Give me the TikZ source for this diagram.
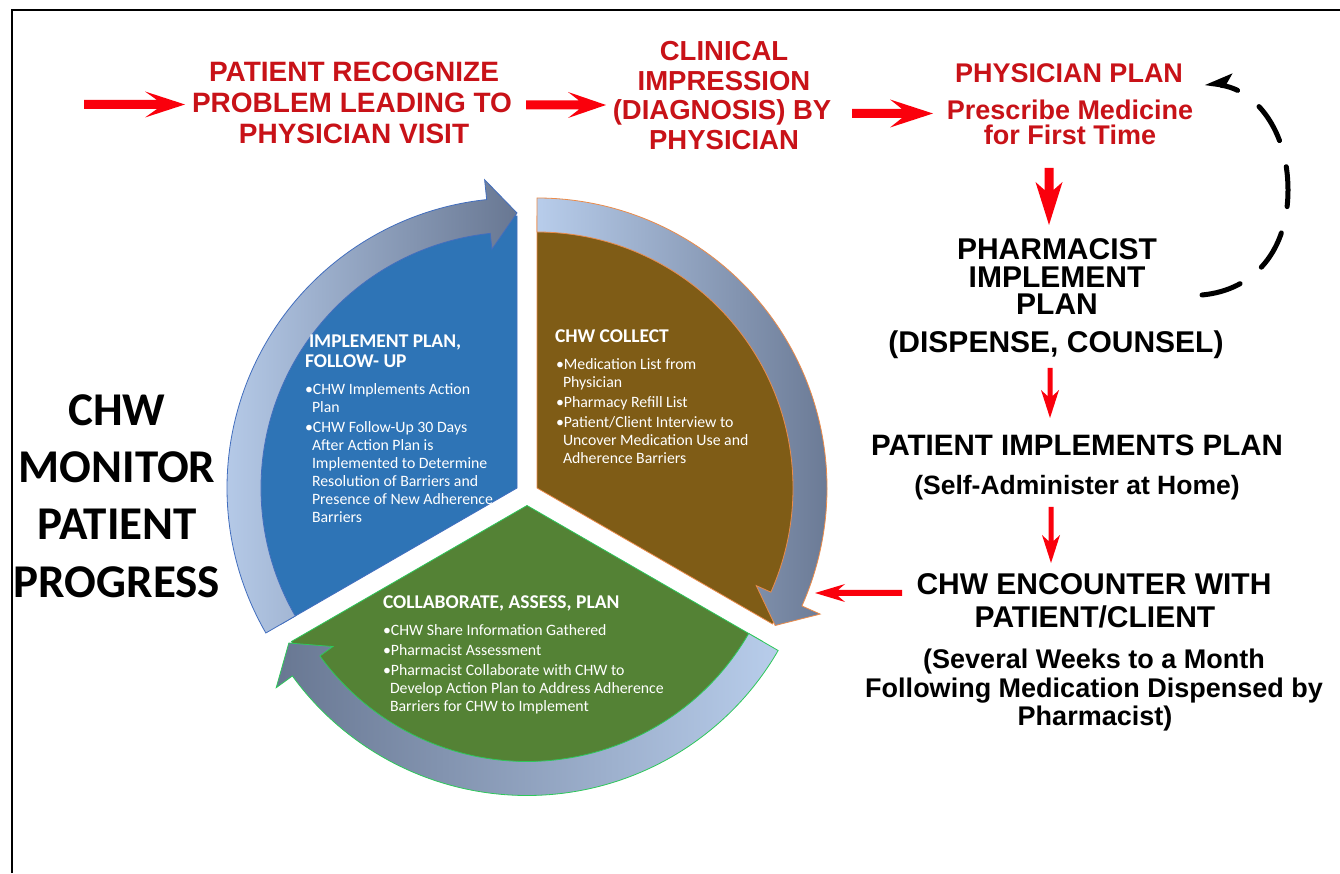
\documentclass[tikz,border=0pt]{standalone}
\usepackage{fontspec}
\setmainfont{Liberation Sans}
\newfontfamily\segfont{Carlito}
\usetikzlibrary{arrows.meta}

\definecolor{redtxt}{RGB}{200,18,24}
\definecolor{redarr}{RGB}{250,0,12}
\definecolor{segblue}{RGB}{46,116,182}
\definecolor{segbrown}{RGB}{127,92,22}
\definecolor{seggreen}{RGB}{84,130,53}
\definecolor{arlight}{RGB}{184,205,235}
\definecolor{ardark}{RGB}{104,119,146}
\definecolor{edgeblue}{RGB}{66,110,190}
\definecolor{edgeorange}{RGB}{235,140,75}
\definecolor{edgegreen}{RGB}{45,200,90}

\tikzset{
  every node/.style={inner sep=0pt, outer sep=0pt},
  redline/.style={anchor=base, text=redtxt, font=\bfseries\fontsize{28}{30}\selectfont},
  redlineB/.style={anchor=base, text=redtxt, font=\bfseries\fontsize{27.5}{30}\selectfont},
  redlineC/.style={anchor=base, text=redtxt, font=\bfseries\fontsize{27}{30}\selectfont},
  blkline/.style={anchor=base, text=black, font=\bfseries\fontsize{30}{30}\selectfont},
  blkmid/.style={anchor=base, text=black, font=\bfseries\fontsize{29.5}{30}\selectfont},
  blksub/.style={anchor=base, text=black, font=\bfseries\fontsize{26.5}{30}\selectfont},
  blksmall/.style={anchor=base, text=black, font=\bfseries\fontsize{27}{30}\selectfont},
  monline/.style={anchor=base, text=black, font=\segfont\bfseries\fontsize{47}{50}\selectfont},
  segtitle/.style={anchor=base west, text=white, font=\segfont\bfseries\fontsize{19.5}{20}\selectfont},
  segitem/.style={anchor=base west, text=white, font=\segfont\fontsize{15.8}{17.8}\selectfont},
  cyclearrow/.style={line width=0.8pt},
  dashloop/.style={line width=5pt, line cap=round, dash pattern=on 40pt off 27pt,
    -{Stealth[harpoon, swap, length=22pt, width=26pt, inset=5pt]}},
  pics/blockarrow/.style n args={5}{code={
    % #1 length, #2 half shaft, #3 half head, #4 head length, #5 notch
    \fill[redarr] (0,-#2) -- ({#1-#4+#5},-#2) -- ({#1-#4},-#3) -- (#1,0)
      -- ({#1-#4},#3) -- ({#1-#4+#5},#2) -- (0,#2) -- cycle;
  }},
}

% one line of text: style, name, x, baseline y measured from the top edge, text
\newcommand\tline[5]{\node[#1] (#2) at (#3,873-#4) {#5};}

\begin{document}
\begin{tikzpicture}[x=1pt,y=1pt]
\useasboundingbox (0,0) rectangle (1340,873);
\fill[white] (0,0) rectangle (1340,873);

% frame
\draw[line width=1.8pt] (12,0) -- (12,863) -- (1340,863);

% ---- cycle: three exploded sectors ----
\begin{scope}[shift={(517,385)}]
  \filldraw[fill=segblue, draw=edgeblue, line width=0.8pt]
    (0,0) -- (90:272pt) arc[start angle=90, end angle=210, radius=272pt] -- cycle;
\end{scope}
\begin{scope}[shift={(537,385)}]
  \filldraw[fill=segbrown, draw=edgeorange, line width=0.8pt]
    (0,0) -- (90:272pt) arc[start angle=90, end angle=-30, radius=272pt] -- cycle;
\end{scope}
\begin{scope}[shift={(527,367.5)}]
  \filldraw[fill=seggreen, draw=edgegreen, line width=0.8pt]
    (0,0) -- (210:272pt) arc[start angle=210, end angle=330, radius=272pt] -- cycle;
\end{scope}

% ---- curved arrows around the sectors ----
\begin{scope}[shift={(517,385)}]
  \shadedraw[left color=arlight, right color=ardark, draw=edgeblue, cyclearrow]
    (210:290pt) arc[start angle=210, end angle=96, radius=290pt]
    -- (96:310pt) -- (90:275pt) -- (96:240pt) -- (96:256pt)
    arc[start angle=96, end angle=210, radius=256pt] -- cycle;
\end{scope}
\begin{scope}[shift={(537,385)}]
  \shadedraw[left color=arlight, right color=ardark, draw=edgeorange, cyclearrow]
    (90:290pt) arc[start angle=90, end angle=-24, radius=290pt]
    -- (-24:310pt) -- (-30:275pt) -- (-24:240pt) -- (-24:256pt)
    arc[start angle=-24, end angle=90, radius=256pt] -- cycle;
\end{scope}
\begin{scope}[shift={(527,367.5)}]
  \shadedraw[left color=ardark, right color=arlight, draw=edgegreen, cyclearrow]
    (330:290pt) arc[start angle=330, end angle=216, radius=290pt]
    -- (216:310pt) -- (210:275pt) -- (216:240pt) -- (216:256pt)
    arc[start angle=216, end angle=330, radius=256pt] -- cycle;
\end{scope}

% ---- sector texts ----
\tline{segtitle}{bT1}{309}{348}{IMPLEMENT PLAN,}
\tline{segtitle}{bT2}{305}{368}{FOLLOW- UP}
\tline{segitem}{bI1}{305}{395}{•CHW Implements Action}
\tline{segitem}{bI2}{312}{413}{Plan}
\tline{segitem}{bI3}{305}{433}{•CHW Follow-Up 30 Days}
\tline{segitem}{bI4}{312}{451}{After Action Plan is}
\tline{segitem}{bI5}{312}{469}{Implemented to Determine}
\tline{segitem}{bI6}{312}{487}{Resolution of Barriers and}
\tline{segitem}{bI7}{312}{505}{Presence of New Adherence}
\tline{segitem}{bI8}{312}{523}{Barriers}

\tline{segtitle}{cT1}{555}{343}{CHW COLLECT}
\tline{segitem}{cI1}{556}{370}{•Medication List from}
\tline{segitem}{cI2}{563}{388}{Physician}
\tline{segitem}{cI3}{556}{408}{•Pharmacy Refill List}
\tline{segitem}{cI4}{556}{428}{•Patient/Client Interview to}
\tline{segitem}{cI5}{563}{446}{Uncover Medication Use and}
\tline{segitem}{cI6}{563}{464}{Adherence Barriers}

\tline{segtitle}{gT1}{383}{608}{COLLABORATE, ASSESS, PLAN}
\tline{segitem}{gI1}{383}{635}{•CHW Share Information Gathered}
\tline{segitem}{gI2}{383}{655}{•Pharmacist Assessment}
\tline{segitem}{gI3}{383}{675}{•Pharmacist Collaborate with CHW to}
\tline{segitem}{gI4}{390}{693}{Develop Action Plan to Address Adherence}
\tline{segitem}{gI5}{390}{711}{Barriers for CHW to Implement}

% ---- left label ----
\tline{monline}{mA}{117}{426}{CHW}
\tline{monline}{mB}{117}{483}{MONITOR}
\tline{monline}{mC}{117}{540}{PATIENT}
\tline{monline}{mD}{117}{597}{PROGRESS}

% ---- top row (red) ----
\tline{redline}{rA}{354}{82}{PATIENT RECOGNIZE}
\tline{redline}{rB}{352}{113}{PROBLEM LEADING TO}
\tline{redline}{rC}{354}{144}{PHYSICIAN VISIT}
\tline{redlineB}{cA}{724}{61}{CLINICAL}
\tline{redlineB}{cB}{724}{90.5}{IMPRESSION}
\tline{redlineB}{cC}{722}{120}{(DIAGNOSIS) BY}
\tline{redlineB}{cD}{724}{149.5}{PHYSICIAN}
\tline{redlineC}{pA}{1069}{83}{PHYSICIAN PLAN}
\tline{redlineC}{pB}{1070}{120}{Prescribe Medicine}
\tline{redlineC}{pC}{1070}{145}{for First Time}

% ---- right column (black) ----
\tline{blkline}{phA}{1057}{260}{PHARMACIST}
\tline{blkline}{phB}{1057}{288}{IMPLEMENT}
\tline{blkline}{phC}{1057}{315}{PLAN}
\tline{blkline}{phD}{1056}{353}{(DISPENSE, COUNSEL)}
\tline{blkmid}{piA}{1077}{456}{PATIENT IMPLEMENTS PLAN}
\tline{blksub}{piB}{1077}{495}{(Self-Administer at Home)}
\tline{blkline}{ceA}{1094}{595}{CHW ENCOUNTER WITH}
\tline{blkline}{ceB}{1095}{627}{PATIENT/CLIENT}
\tline{blksmall}{ceC}{1094}{668}{(Several Weeks to a Month}
\tline{blksmall}{ceD}{1094}{697}{Following Medication Dispensed by}
\tline{blksmall}{ceE}{1095}{725}{Pharmacist)}

% ---- red block arrows ----
\coordinate (arA) at (84,873-104.5);
\coordinate (arB) at (526,873-105);
\coordinate (arC) at (852,873-113.5);
\coordinate (arD) at (1049,873-168);
\coordinate (arE) at (1050,873-368);
\coordinate (arF) at (1051,873-507);
\coordinate (arG) at (902,873-593);
\pic (pA1) at (arA) {blockarrow={101}{4.5}{13}{40}{12}};
\pic (pA2) at (arB) {blockarrow={80}{4.5}{13}{38}{11}};
\pic (pA3) at (arC) {blockarrow={81}{4.5}{14}{43}{12}};
\pic[rotate=-90] (pA4) at (arD) {blockarrow={57}{4.5}{13.5}{43}{8}};
\pic[rotate=-90] (pA5) at (arE) {blockarrow={50}{2.5}{9}{28}{6}};
\pic[rotate=-90] (pA6) at (arF) {blockarrow={56}{2.5}{9}{28}{6}};
\pic[rotate=180] (pA7) at (arG) {blockarrow={87}{3}{9}{30}{7}};

% ---- dashed return loop ----
\coordinate (loopS) at (1202,578);
\coordinate (loopR) at (1288,683);
\coordinate (loopE) at (1205,790);
\draw[dashloop] (loopS) .. controls (1255,583) and (1288,623) .. (loopR)
  .. controls (1288,743) and (1255,783) .. (loopE);

\end{tikzpicture}
\end{document}
